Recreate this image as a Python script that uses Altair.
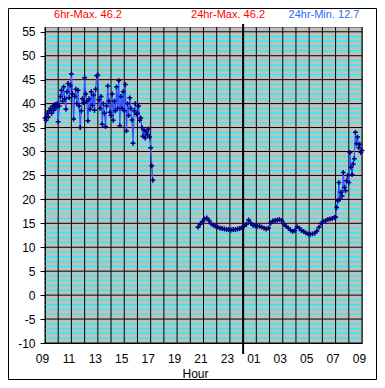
import altair as alt
import pandas as pd

# ---- data ----
# Day segment: 5-minute readings starting 09:00
day_start = "09:00"
day_step_min = 5
day_values = [
    37.0, 36.5, 38.0, 37.2, 38.5, 39.0, 38.0, 39.5, 38.6, 39.8, 39.2, 40.0,
    36.2, 39.5, 41.5, 42.8, 40.5, 43.5, 41.0, 38.8, 42.5, 44.2, 41.2, 43.8,
    46.2, 42.0, 36.8, 41.5, 43.0, 40.0, 42.8, 39.5, 35.0, 38.5, 41.0, 40.2,
    45.4, 42.0, 40.5, 36.4, 41.0, 38.8, 42.5, 39.6, 41.8, 38.6, 43.0, 45.8,
    46.0, 40.8, 39.0, 41.5, 35.7, 40.0, 38.0, 35.2, 39.5, 43.7, 40.5, 38.2,
    37.5, 42.0, 36.5, 40.5, 38.5, 43.5, 39.0, 44.8, 35.4, 41.5, 39.0, 42.5,
    38.5, 44.0, 34.3, 40.0, 37.5, 41.2, 39.0, 36.6, 31.7, 38.5, 40.0, 37.8,
    38.0, 39.5, 36.5, 37.0, 35.0, 33.2, 34.5, 32.8, 34.2, 33.5, 34.7, 33.0,
    30.8, 27.0, 24.0,
]

# Night segment: 10-minute readings starting 20:35
night_start = "20:35"
night_step_min = 10
night_values = [
    14.2, 14.8, 15.4, 15.9, 16.1, 15.6, 14.9, 14.6, 14.35, 14.2,
    14.0, 13.9, 13.8, 13.7, 13.7, 13.6, 13.7, 13.7, 13.8, 13.9,
    14.1, 14.4, 14.8, 15.7, 15.0, 14.6, 14.5, 14.4, 14.35, 14.2,
    14.0, 13.8, 14.0, 15.0, 15.5, 15.6, 15.7, 15.8, 15.6, 14.9,
    14.4, 14.0, 13.6, 13.3, 13.5, 14.3, 14.0, 13.5, 13.3, 13.0,
    12.8, 12.7, 12.8, 12.9, 13.4, 14.2, 15.0, 15.4, 15.6, 15.8,
    15.9, 16.0, 16.2,
]

# Morning segment: 5-minute readings starting 07:00 (through 09:00)
morning_start = "07:00"
morning_step_min = 5
morning_values = [
    16.3, 18.3, 19.7, 23.5, 20.0, 21.5, 20.7, 25.6, 22.5, 21.8, 23.9, 25.0,
    23.5, 29.8, 26.7, 25.2, 27.4, 28.5, 34.0, 31.6, 33.0, 30.8, 31.5, 29.8,
    30.2,
]

header_texts = ["6hr-Max. 46.2", "24hr-Max. 46.2", "24hr-Min. 12.7"]
x_title = "Hour"
first_hour = 9          # axis starts at 09:00
midnight_offset = 15    # 00:00 is 15 hours after 09:00


def hours_since_start(hhmm):
    h, m = (int(p) for p in hhmm.split(":"))
    return ((h - first_hour) % 24) + m / 60.0


def segment(start, step, values, group):
    t0 = hours_since_start(start)
    return pd.DataFrame({
        "t": [t0 + i * step / 60.0 for i in range(len(values))],
        "v": values,
        "g": group,
    })


df = pd.concat([
    segment(day_start, day_step_min, day_values, "day"),
    segment(night_start, night_step_min, night_values, "night"),
    segment(morning_start, morning_step_min, morning_values, "night"),
], ignore_index=True)

minor_df = pd.DataFrame({"v": [v for v in range(-9, 56) if v % 5 != 0]})
major_df = pd.DataFrame({"v": list(range(-10, 56, 5))})
hour_df = pd.DataFrame({"t": list(range(0, 25))})
mid_df = pd.DataFrame({"t": [midnight_offset]})

xscale = alt.Scale(domain=[0, 24], nice=False, zero=False)
yscale = alt.Scale(domain=[-10, 56], nice=False, zero=False)

W, H = 317, 316
PAD = {"left": 37, "top": 19, "right": 15, "bottom": 37}

x_axis = alt.Axis(
    values=list(range(0, 25)),
    labelExpr="datum.value % 2 == 0 ? format((9 + datum.value) % 24, '02d') : ''",
    ticks=False, grid=False,
    domainColor="black", domainWidth=1,
    labelFontSize=12, labelColor="black", labelPadding=10, labelOffset=-3,
    labelFlush=False, labelOverlap=False,
    title=x_title, titleX=150, titleY=30, titleBaseline="middle",
    titleFontSize=12, titleFontWeight="normal", titleColor="black",
)
y_axis = alt.Axis(
    values=list(range(-10, 56, 5)),
    labelExpr="datum.value + ''",
    tickSize=5, tickColor="black", grid=False,
    domainColor="black", domainWidth=1,
    labelFontSize=12, labelColor="black", labelPadding=5,
    labelOverlap=False, labelFlush=False,
    title=None,
)

X = alt.X("t:Q", scale=xscale, axis=x_axis)
Y = alt.Y("v:Q", scale=yscale, axis=y_axis)

minor = alt.Chart(minor_df).mark_rule(color="#00ffff", strokeWidth=1.2).encode(y=Y)
hours = alt.Chart(hour_df).mark_rule(color="black", strokeWidth=1).encode(x=X)
major = alt.Chart(major_df).mark_rule(color="black", strokeWidth=1).encode(y=Y)
midnight = alt.Chart(mid_df).mark_rule(color="black", strokeWidth=2).encode(
    x=X, y=alt.value(-3), y2=alt.value(H + 11),
)

line = alt.Chart(df).mark_line(color="#3355ff", strokeWidth=1.2).encode(
    x=X, y=Y, detail="g:N",
)
pts = alt.Chart(df).mark_point(
    shape="M-1,0L1,0M0,-1L0,1", filled=False, color="#000080",
    strokeWidth=1.5, size=24, opacity=1,
).encode(x=X, y=Y)

text_layers = []
for label, cx, col in zip(header_texts, [43, 183, 279], ["#ff0000", "#ff0000", "#3366ff"]):
    text_layers.append(
        alt.Chart(pd.DataFrame({"s": [label]})).mark_text(
            fontSize=11, color=col, align="center", baseline="middle"
        ).encode(text="s:N", x=alt.value(cx), y=alt.value(-12))
    )

border = alt.Chart(pd.DataFrame({"s": [""]})).mark_rect(
    filled=False, stroke="black", strokeWidth=1
).encode(
    x=alt.value(-PAD["left"] + 0.5), x2=alt.value(W + PAD["right"] - 0.5),
    y=alt.value(-PAD["top"] + 0.5), y2=alt.value(H + PAD["bottom"] - 0.5),
)

chart = alt.layer(
    minor, hours, major, midnight, line, pts, *text_layers, border
).properties(
    width=W, height=H,
    autosize=alt.AutoSizeParams(type="none"),
    padding=PAD,
    background="white",
).configure(
    font="Liberation Sans",
).configure_view(
    fill="#c0c0c0", stroke="#808080", strokeWidth=1,
)

chart.save("out.html", embed_options={"renderer": "svg", "actions": False})
